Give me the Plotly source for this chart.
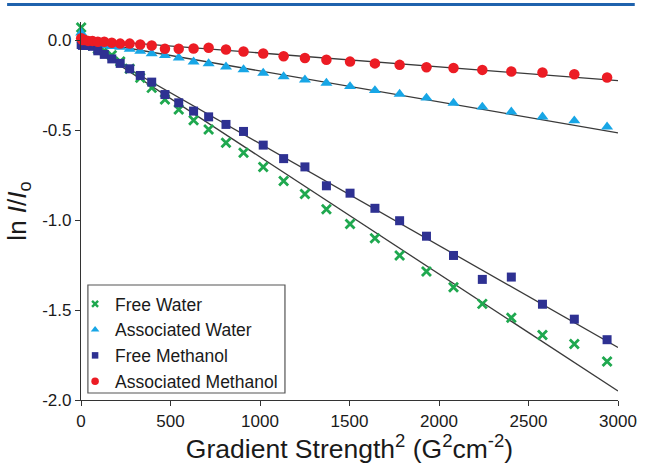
import plotly.graph_objects as go

# ---- data ----
g2 = [1, 8, 21, 40, 64, 94, 130, 172, 219, 272, 331, 395, 469, 546, 629, 713,
      810, 908, 1018, 1132, 1251, 1371, 1503, 1642, 1780, 1930, 2081, 2242,
      2404, 2578, 2756, 2939]

free_water = [0.07, 0.0, -0.01, -0.02, -0.03, -0.05, -0.06, -0.085, -0.12, -0.16,
              -0.21, -0.266, -0.331, -0.386, -0.446, -0.497, -0.571, -0.627, -0.705,
              -0.783, -0.856, -0.94, -1.022, -1.101, -1.197, -1.286, -1.374, -1.466,
              -1.543, -1.639, -1.689, -1.786]

assoc_water = [0.04, 0.0, -0.01, -0.015, -0.02, -0.025, -0.03, -0.035, -0.04, -0.05,
               -0.062, -0.075, -0.086, -0.099, -0.121, -0.131, -0.149, -0.164, -0.184,
               -0.203, -0.221, -0.239, -0.258, -0.28, -0.3, -0.322, -0.35, -0.372,
               -0.399, -0.427, -0.448, -0.482]

free_methanol = [-0.025, -0.03, -0.03, -0.03, -0.035, -0.06, -0.08, -0.105, -0.13, -0.16,
                 -0.197, -0.234, -0.303, -0.349, -0.395, -0.427, -0.469, -0.508, -0.584,
                 -0.659, -0.705, -0.81, -0.851, -0.935, -1.004, -1.09, -1.197, -1.33,
                 -1.317, -1.468, -1.551, -1.665]

assoc_methanol = [0.01, 0.0, 0.0, -0.005, -0.005, -0.01, -0.01, -0.015, -0.02, -0.02,
                  -0.025, -0.031, -0.049, -0.049, -0.047, -0.043, -0.053, -0.064, -0.075,
                  -0.09, -0.1, -0.11, -0.12, -0.13, -0.138, -0.151, -0.156, -0.166,
                  -0.175, -0.181, -0.19, -0.208]

series_names = ["Free Water", "Associated Water", "Free Methanol", "Associated Methanol"]
series_values = [free_water, assoc_water, free_methanol, assoc_methanol]

# linear fits (slope, intercept)
fit_slopes = [-6.5e-4, -1.72e-4, -5.66e-4, -7.7e-5]
fit_intercepts = [0.0, 0.0, -0.01, 0.005]
fit_x = [0, 3000]

x_ticks = [0, 500, 1000, 1500, 2000, 2500, 3000]
y_ticks = [0.0, -0.5, -1.0, -1.5, -2.0]
y_ticklabels = ["0.0", "-0.5", "-1.0", "-1.5", "-2.0"]

# ---- styles ----
colors = ["#1fa84f", "#17a6e6", "#2e3192", "#ec1c24"]
symbols = ["x-thin", "triangle-up", "square", "circle"]
sizes = [9, 10.5, 9, 10.5]
legend_sizes = [6, 7.5, 6.5, 7.5]
FONT = "Liberation Sans, Arial, sans-serif"

fig = go.Figure()

# fit lines
for s, b in zip(fit_slopes, fit_intercepts):
    fig.add_trace(go.Scatter(
        x=fit_x, y=[b + s * xv for xv in fit_x], mode="lines",
        line=dict(color="#3a3a3a", width=1.3), showlegend=False, hoverinfo="skip"))

# data markers
for name, vals, c, sym, sz in zip(series_names, series_values, colors, symbols, sizes):
    if sym == "x-thin":
        marker = dict(symbol=sym, size=sz, color=c, line=dict(color=c, width=2.8))
    else:
        marker = dict(symbol=sym, size=sz, color=c, line=dict(width=0))
    fig.add_trace(go.Scatter(x=g2, y=vals, mode="markers", name=name,
                             marker=marker, showlegend=False, cliponaxis=False))

# legend proxies (smaller symbols like the reference legend)
for name, c, sym, sz in zip(series_names, colors, symbols, legend_sizes):
    if sym == "x-thin":
        marker = dict(symbol=sym, size=sz, color=c, line=dict(color=c, width=2.4))
    else:
        marker = dict(symbol=sym, size=sz, color=c, line=dict(width=0))
    fig.add_trace(go.Scatter(x=[None], y=[None], mode="markers", name=name,
                             marker=marker, showlegend=True))

L, R, T, B = 81, 23, 22, 64
W, H = 649, 464
pw, ph = W - L - R, H - T - B


def px_x(p):
    return (p - L) / pw


def px_y(p):
    return (H - B - p) / ph


shapes = [
    # journal header bar
    dict(type="line", xref="paper", yref="paper", x0=px_x(6), x1=px_x(643),
         y0=px_y(4.5), y1=px_y(4.5), line=dict(color="#1f62ad", width=3)),
    # legend frame
    dict(type="rect", xref="paper", yref="paper", x0=px_x(88), x1=px_x(288),
         y0=px_y(393), y1=px_y(285), line=dict(color="#555555", width=1.2)),
]

fig.update_layout(
    width=W, height=H,
    margin=dict(l=L, r=R, t=T, b=B, pad=0),
    paper_bgcolor="white", plot_bgcolor="white",
    font=dict(family=FONT, color="#1a1a1a", size=17),
    shapes=shapes,
    legend=dict(x=px_x(75), y=px_y(286), xanchor="left", yanchor="top",
                bgcolor="rgba(0,0,0,0)", borderwidth=0,
                font=dict(family=FONT, size=17.5, color="#1a1a1a"),
                itemwidth=30),
    xaxis=dict(range=[0, 3000], tickvals=x_ticks, ticks="outside", ticklen=5,
               tickwidth=1.2, tickcolor="#333", showline=True, linecolor="#333",
               linewidth=1.2, showgrid=False, zeroline=False,
               tickfont=dict(size=17),
               title=dict(text="Gradient Strength<sup>2</sup> (G<sup>2</sup>cm<sup>-2</sup>)",
                          font=dict(size=26.5), standoff=3)),
    yaxis=dict(range=[-2.0, 0.1], tickvals=y_ticks, ticktext=y_ticklabels,
               ticks="outside", ticklen=5, tickwidth=1.2, tickcolor="#333",
               showline=True, linecolor="#333", linewidth=1.2, showgrid=False,
               zeroline=False, tickfont=dict(size=17),
               title=dict(text="ln <i>I</i>/<i>I</i><sub>o</sub>", font=dict(size=26),
                          standoff=8)),
)

fig.write_html("out.html")
